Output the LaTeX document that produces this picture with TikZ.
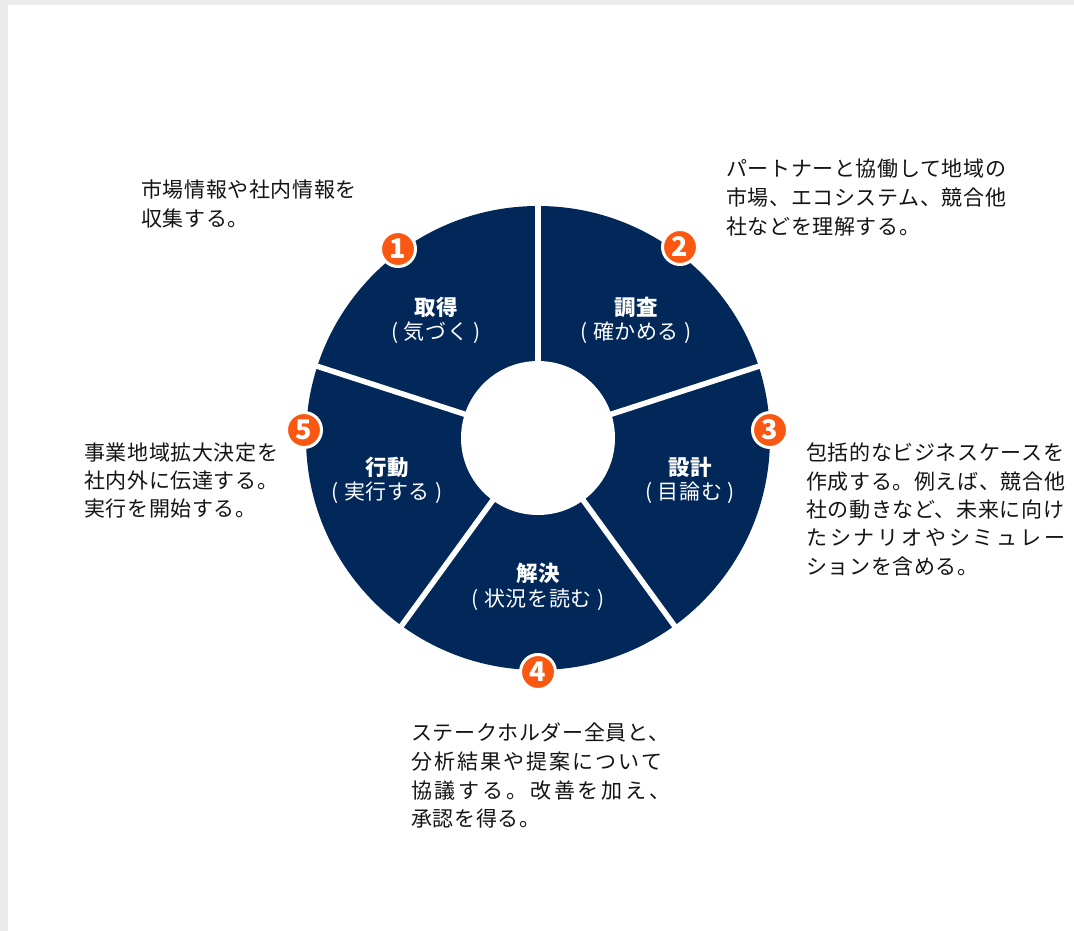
\documentclass[tikz,border=0pt]{standalone}
\usepackage{fontspec}
\setmainfont{Noto Sans CJK JP}[LetterSpace=3]
\usetikzlibrary{calc}
\definecolor{navy}{HTML}{02285A}
\definecolor{orng}{HTML}{FA5712}
\definecolor{txt}{HTML}{141414}
\definecolor{framegray}{HTML}{EBEBEB}
\makeatletter
\newcommand\jline[2]{\makebox[#1][s]{\@tfor\jl@c:=#2\do{\jl@c\hskip 0pt plus 1fil}\unskip}}
\makeatother
\begin{document}
\begin{tikzpicture}[x=1pt,y=-1pt,
  badge/.style={circle, fill=orng, draw=white, line width=3pt, minimum size=35pt, inner sep=0pt,
    text=white, font=\bfseries\fontsize{27}{27}\selectfont},
  ttl/.style={text=white, inner sep=0pt, font=\bfseries\fontsize{21.5}{22}\selectfont},
  subl/.style={text=white, inner sep=0pt, font=\fontsize{21}{22}\selectfont},
  desc/.style={text=txt, inner sep=0pt, anchor=base west, font=\fontsize{21}{28}\selectfont}]
\useasboundingbox (0,0) rectangle (1074,931);
\fill[framegray] (0,0) rectangle (1074,931);
\fill[white] (8,5) rectangle (1074,931);
% ring
\coordinate (c) at (538,438);
\fill[navy] (c) circle[radius=232pt];
\foreach \a in {90,18,-54,-126,162}
  \draw[white, line width=5.5pt] (c) -- ++(\a:240pt);
\fill[white] (c) circle[radius=77pt];
% segment labels
\node[ttl]  (t1) at (436,307) {取得};
\node[subl] (s1) at (436,333) {( 気づく )};
\node[ttl]  (t2) at (636,307) {調査};
\node[subl] (s2) at (636,333) {( 確かめる )};
\node[ttl]  (t3) at (690,467) {設計};
\node[subl] (s3) at (690,493) {( 目論む )};
\node[ttl]  (t4) at (538,573) {解決};
\node[subl] (s4) at (538,600) {( 状況を読む )};
\node[ttl]  (t5) at (387,467) {行動};
\node[subl] (s5) at (387,493) {( 実行する )};
% badges
\node[badge] (b1) at (398,249) {1};
\node[badge] (b2) at (680,247) {2};
\node[badge] (b3) at (770,430) {3};
\node[badge] (b4) at (538,672) {4};
\node[badge] (b5) at (304,430) {5};
% descriptions
\node[desc] (d1a) at (141,197.5) {市場情報や社内情報を};
\node[desc] (d1b) at (141,226) {収集する。};
\node[desc] (d2a) at (726,176.5) {パートナーと協働して地域の};
\node[desc] (d2b) at (726,205.5) {市場、エコシステム、競合他};
\node[desc] (d2c) at (726,234) {社などを理解する。};
\node[desc] (d3a) at (806,460.5) {包括的なビジネスケースを};
\node[desc] (d3b) at (806,489) {作成する。例えば、競合他};
\node[desc] (d3c) at (806,517) {社の動きなど、未来に向け};
\node[desc] (d3d) at (806,545.5) {\jline{259pt}{たシナリオやシミュレー}};
\node[desc] (d3e) at (806,574) {ションを含める。};
\node[desc] (d5a) at (84,460) {事業地域拡大決定を};
\node[desc] (d5b) at (84,488.5) {社内外に伝達する。};
\node[desc] (d5c) at (84,516) {実行を開始する。};
\node[desc] (d4a) at (411,740.5) {ステークホルダー全員と、};
\node[desc] (d4b) at (411,769.5) {\jline{251pt}{分析結果や提案について}};
\node[desc] (d4c) at (411,798) {\jline{259pt}{協議する。改善を加え、}};
\node[desc] (d4d) at (411,826.5) {承認を得る。};
\end{tikzpicture}
\end{document}
